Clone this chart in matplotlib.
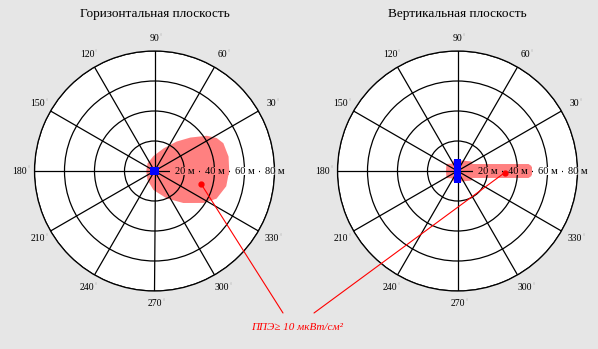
import numpy as np
import matplotlib
matplotlib.use("Agg")
from matplotlib import pyplot as plt
from matplotlib.patches import Rectangle
from matplotlib.transforms import IdentityTransform

plt.rcParams['font.family'] = ['Liberation Serif', 'DejaVu Serif']

# grid / labels
SPOKES = [0, 30, 60, 90, 120, 150, 180, 210, 240, 270, 300, 330]  # degrees
RINGS = [20, 40, 60, 80]  # metres
TITLES = ["Горизонтальная плоскость", "Вертикальная плоскость"]
NOTE = "ППЭ≥ 10 мкВт/см²"

# zone PPE >= 10 uW/cm2, horizontal plane (angle deg, radius m)
hor_ang = [0, 11, 22, 28, 34, 43, 53, 68, 94, 132, 180, 232, 267, 294, 312, 327, 336, 348]
hor_r = [49.8, 50.3, 49.5, 46.9, 42.0, 32.7, 24.6, 16.3, 10.0, 6.9, 5.5, 7.6, 12.7, 20.0, 28.7, 39.1, 45.3, 48.9]

# zone PPE >= 10 uW/cm2, vertical plane
ver_ang = [0, 3.9, 5.6, 25, 34.2, 69.1, 110.9, 123.7, 147.5, 180,
           212.5, 236.3, 249.1, 290.9, 325.8, 335, 354.4, 356.1]
ver_r = [49.7, 49.4, 47.6, 11.0, 11.3, 7.5, 7.5, 6.0, 8.7, 7.7,
         8.7, 6.0, 7.5, 7.5, 11.3, 11.0, 47.6, 49.4]

# antenna half sizes (x, y) in metres
ant_hor = (2.7, 2.7)
ant_ver = (2.4, 7.8)

# points the note refers to (angle deg, radius m)
mark_hor = (344.4, 32.3)
mark_ver = (358.0, 31.5)

RED = '#ff8080'


def rect_polar(hx, hy):
    xs = np.array([hx, -hx, -hx, hx])
    ys = np.array([hy, hy, -hy, -hy])
    return np.arctan2(ys, xs), np.hypot(xs, ys)


def setup(ax, title_x, title):
    ax.set_facecolor('white')
    ax.set_ylim(0, 80)
    ax.set_xticks(np.deg2rad(SPOKES))
    ax.set_xticklabels([])
    ax.set_yticks(RINGS)
    ax.set_yticklabels([])
    ax.grid(True, color='black', lw=0.9)
    ax.spines['polar'].set_color('black')
    ax.spines['polar'].set_linewidth(0.9)
    for a in SPOKES:
        if a == 0:
            continue  # the 80 m label sits there
        rr = 88.5 if a in (90, 270) else 90
        ax.text(np.deg2rad(a), rr, str(a), ha='center', va='center', fontsize=7, clip_on=False)
        ax.annotate("°", xy=(np.deg2rad(a), rr), xytext=(1.9 * len(str(a)) + 0.8, 1.2),
                    textcoords='offset points', ha='center', va='center',
                    fontsize=4, color='#a8a8a8', annotation_clip=False)
    fig.text(title_x, 1 - 14 / 349, title, ha='center', va='center', fontsize=9.5)


def ring_labels(ax, n_red):
    out = []
    for i, r in enumerate(RINGS):
        fc = RED if i < n_red else 'white'
        t = ax.text(0, r, f"{r} м", ha='center', va='center', fontsize=7.5, zorder=3,
                    clip_on=False)
        out.append((ax, t, fc))
    return out


fig = plt.figure(figsize=(5.98, 3.49), dpi=100)
fig.patch.set_facecolor('#e6e6e6')

ax1 = fig.add_axes([154.5 / 598 - 120 / 598, 1 - 291 / 349, 240 / 598, 240 / 349], projection='polar')
ax2 = fig.add_axes([457.5 / 598 - 120 / 598, 1 - 291 / 349, 240 / 598, 240 / 349], projection='polar')

setup(ax1, 155 / 598, TITLES[0])
setup(ax2, 457 / 598, TITLES[1])

ax1.fill(np.deg2rad(hor_ang), hor_r, color=RED, lw=0, zorder=1)
ax2.fill(np.deg2rad(ver_ang), ver_r, color=RED, lw=0, zorder=1)

t, r = rect_polar(*ant_hor)
ax1.fill(t, r, color='blue', lw=0, zorder=2.5)
t, r = rect_polar(*ant_ver)
ax2.fill(t, r, color='blue', lw=0, zorder=2.5)

labels = ring_labels(ax1, 2) + ring_labels(ax2, 2)

note_xy = [(283 / 598, 1 - 313 / 349), (314 / 598, 1 - 313 / 349)]
for ax, m, xy in zip([ax1, ax2], [mark_hor, mark_ver], note_xy):
    th = np.deg2rad(m[0])
    ax.plot([th], [m[1]], 'o', color='red', ms=3.5, zorder=4)
    ax.annotate("", xy=(th, m[1]), xytext=xy, textcoords='figure fraction',
                arrowprops=dict(arrowstyle='-', color='red', lw=0.8, shrinkA=0, shrinkB=0),
                annotation_clip=False)

fig.text(297 / 598, 1 - 328 / 349, NOTE, ha='center', va='center', fontsize=8,
         color='red', style='italic')

# backing boxes under the ring labels, kept inside the circle
fig.canvas.draw()
rend = fig.canvas.get_renderer()
for ax, t, fc in labels:
    bb = t.get_window_extent(rend)
    cy = 0.5 * (bb.y0 + bb.y1)
    box = Rectangle((bb.x0 - 4.5, cy - 4), bb.width + 9, 8, transform=IdentityTransform(),
                    fc=fc, ec='none', zorder=2.8)
    ax.add_patch(box)
    box.set_clip_path(ax.patch)

fig.savefig("out.png", dpi=100, facecolor=fig.get_facecolor())
